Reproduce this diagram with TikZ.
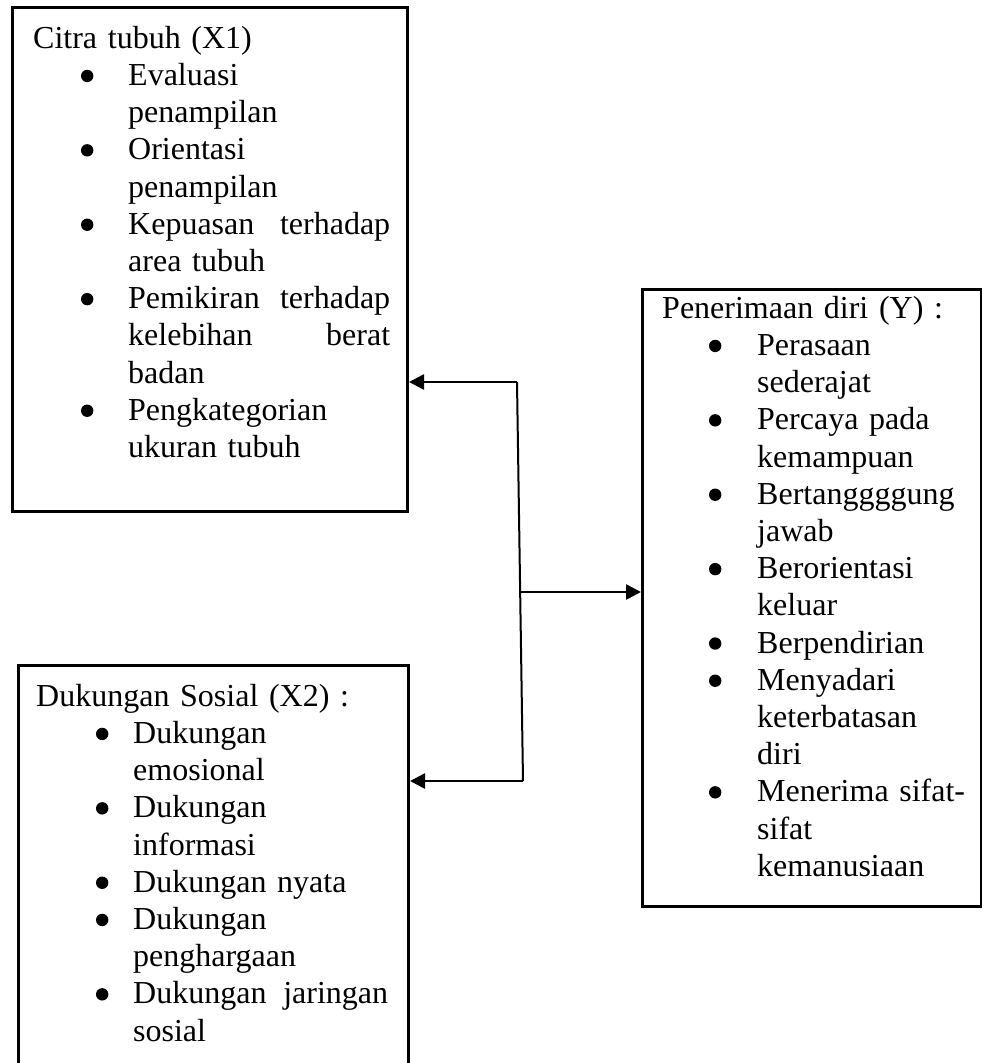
\documentclass[tikz,border=0pt]{standalone}
\usepackage{fontspec}
\setmainfont{Liberation Serif}
\usetikzlibrary{arrows.meta,calc}
\newlength\bulx \newlength\txtx \newlength\txtw
\newcommand\fs{\fontsize{32}{37.2}\selectfont}
\newcommand\bigbul{\tikz[baseline=0pt]\fill (0pt,9.5pt) circle[radius=6.2pt];}
\newcommand\bl[1]{\par\noindent\hspace*{\bulx}\makebox[0pt]{\bigbul}\hspace*{\dimexpr\txtx-\bulx\relax}#1}
\newcommand\cl[1]{\par\noindent\hspace*{\txtx}#1}
\newcommand\jl[2]{\makebox[\txtw][l]{#1\hfill #2}}
\begin{document}
\begin{tikzpicture}[x=1pt,y=-1pt,
  box/.style={draw, line width=3pt, inner sep=0pt, anchor=north west},
  txt/.style={anchor=north west, inner sep=0pt, text width=420pt, font=\fs},
  conn/.style={line width=2.6pt},
  arr/.style={conn, -{Triangle[length=15pt,width=15pt]}}]
\useasboundingbox (0,0) rectangle (982,1063);
\clip (0,0) rectangle (982,1063);
\node[box, minimum width=395pt, minimum height=504pt] (b1) at (11,6) {};
\node[box, minimum width=390pt, minimum height=440pt] (b2) at (17,664) {};
\node[box, minimum width=339pt, minimum height=617pt] (b3) at (641,288) {};

\node[txt] (t1) at (33,22) {\setlength\bulx{54pt}\setlength\txtx{95pt}\setlength\txtw{262pt}%
\noindent\strut Citra tubuh (X1)
\bl{Evaluasi}
\cl{penampilan}
\bl{Orientasi}
\cl{penampilan}
\bl{\jl{Kepuasan}{terhadap}}
\cl{area tubuh}
\bl{\jl{Pemikiran}{terhadap}}
\cl{\jl{kelebihan}{berat}}
\cl{badan}
\bl{Pengkategorian}
\cl{ukuran tubuh}};

\node[txt] (t2) at (36,680) {\setlength\bulx{66pt}\setlength\txtx{97pt}\setlength\txtw{255pt}%
\noindent\strut Dukungan Sosial (X2) :
\bl{Dukungan}
\cl{emosional}
\bl{Dukungan}
\cl{informasi}
\bl{Dukungan nyata}
\bl{Dukungan}
\cl{penghargaan}
\bl{\jl{Dukungan}{jaringan}}
\cl{sosial}};

\node[txt] (t3) at (662,292) {\setlength\bulx{53pt}\setlength\txtx{95pt}\setlength\txtw{205pt}%
\noindent\strut Penerimaan diri (Y) :
\bl{Perasaan}
\cl{sederajat}
\bl{Percaya pada}
\cl{kemampuan}
\bl{Bertanggggung}
\cl{jawab}
\bl{Berorientasi}
\cl{keluar}
\bl{Berpendirian}
\bl{Menyadari}
\cl{keterbatasan}
\cl{diri}
\bl{Menerima sifat-}
\cl{sifat}
\cl{kemanusiaan}};

\coordinate (j1) at (517,382);
\coordinate (jm) at (520,592);
\coordinate (j2) at (523,781);
\draw[arr] (j1) -- (j1 -| b1.east);
\draw[conn, line width=2pt] (j1) -- (j2);
\draw[arr] (jm) -- (jm -| b3.west);
\draw[arr] (j2) -- (j2 -| b2.east);
\end{tikzpicture}
\end{document}
